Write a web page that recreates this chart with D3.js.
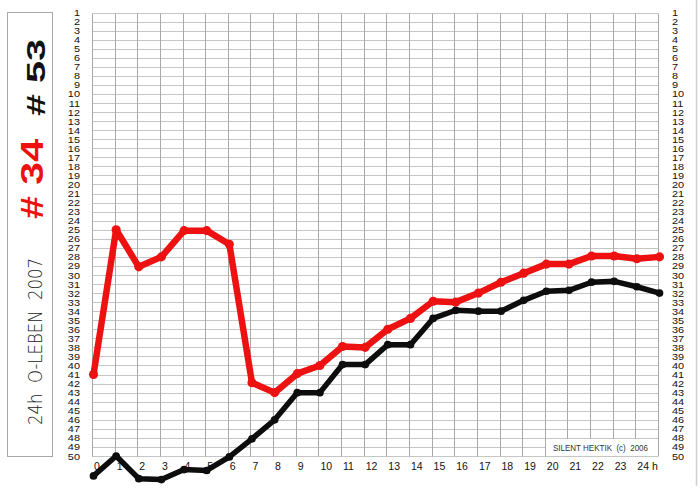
<!DOCTYPE html>
<html>
<head>
<meta charset="utf-8">
<script src="https://cdn.jsdelivr.net/npm/d3@7"></script>
<style>
  html, body { margin: 0; padding: 0; background: #ffffff; }
  svg { display: block; }
</style>
</head>
<body>
<svg id="chart" width="700" height="496"></svg>
<script>
// ---- data ----
const hours = d3.range(0, 26);                       // 0 .. 25
const hourLabels = d3.range(0, 24).map(String).concat(["24 h"]);
const rankTicks = d3.range(1, 51);                   // 1 .. 50
const redRanks = [41, 25, 29.1, 28, 25.1, 25.1, 26.6, 41.9, 43, 40.9, 40, 37.9, 38, 36, 34.8, 32.9, 33, 32, 30.8, 29.8, 28.8, 28.8, 27.9, 27.9, 28.2, 28];
const blackRanks = [52.2, 50, 52.5, 52.6, 51.5, 51.6, 50.1, 48.1, 46, 43, 43, 39.9, 39.9, 37.7, 37.7, 34.8, 33.9, 34, 34, 32.8, 31.8, 31.7, 30.8, 30.7, 31.3, 32];
const redLabel = "# 34";
const blackLabel = "# 53";
const sideTitle = "24h  O-LEBEN  2007";
const credit = "SILENT HEKTIK  (c)  2006";

// ---- layout ----
const svg = d3.select("#chart");
const x = d3.scaleLinear().domain([0, 25]).range([92, 658]);
const y = d3.scaleLinear().domain([1, 50]).range([12.5, 456]);

const grid = svg.append("g");
grid.selectAll("line.h").data(rankTicks).join("line")
  .attr("class", "h")
  .attr("x1", x(0)).attr("x2", x(25))
  .attr("y1", d => Math.round(y(d)) + 0.5).attr("y2", d => Math.round(y(d)) + 0.5)
  .attr("stroke", "#c6c6c6").attr("stroke-width", 1);
grid.selectAll("line.v").data(hours).join("line")
  .attr("class", "v")
  .attr("x1", d => Math.round(x(d)) + 0.5).attr("x2", d => Math.round(x(d)) + 0.5)
  .attr("y1", Math.round(y(1)) + 0.5).attr("y2", Math.round(y(50)) + 0.5)
  .attr("stroke", "#a8a8a8").attr("stroke-width", 1);

// credit box
const bx0 = Math.round(x(20)) + 1, bx1 = Math.round(x(25));
const by0 = Math.round(y(48)) + 1, by1 = Math.round(y(50));
svg.append("rect")
  .attr("x", bx0).attr("y", by0).attr("width", bx1 - bx0).attr("height", by1 - by0)
  .attr("fill", "#ffffff");
svg.append("text")
  .attr("x", 553).attr("y", (by0 + by1) / 2 + 3.5)
  .attr("textLength", 95).attr("lengthAdjust", "spacingAndGlyphs")
  .attr("font-family", "Liberation Sans, Arial, sans-serif")
  .attr("font-size", 9.5).attr("fill", "#333")
  .attr("xml:space", "preserve")
  .text(credit);

// axes (labels only)
const yLeft = d3.axisLeft(y).tickValues(rankTicks).tickSize(0).tickPadding(0);
const yRight = d3.axisRight(y).tickValues(rankTicks).tickSize(0).tickPadding(0);
const gl = svg.append("g").attr("transform", "translate(80,0)").call(yLeft);
const gr = svg.append("g").attr("transform", "translate(672,0)").call(yRight);
[gl, gr].forEach(g => {
  g.select(".domain").remove();
  g.selectAll(".tick text")
    .attr("font-family", "Liberation Sans, Arial, sans-serif")
    .attr("font-size", 8.4).attr("fill", "#111")
    .attr("dy", "0.36em")
    .attr("transform", "scale(1.3,1)");
});
const xAxis = d3.axisBottom(x).tickValues(d3.range(0, 25)).tickFormat((d, i) => hourLabels[i]).tickSize(0).tickPadding(0);
const gx = svg.append("g").attr("transform", "translate(0,470)").call(xAxis);
gx.select(".domain").remove();
gx.selectAll("text")
  .attr("text-anchor", "start").attr("dx", 1.5).attr("dy", 0)
  .attr("font-family", "Liberation Sans, Arial, sans-serif")
  .attr("font-size", 10.5).attr("fill", "#111")
  .attr("xml:space", "preserve");

// series
const line = d3.line().x((d, i) => x(hours[i]) + 1.5).y(d => y(d));
function drawSeries(vals, color, w) {
  svg.append("path").datum(vals)
    .attr("d", line)
    .attr("fill", "none").attr("stroke", color).attr("stroke-width", w)
    .attr("stroke-linejoin", "round").attr("stroke-linecap", "round");
  svg.append("g").selectAll("circle").data(vals).join("circle")
    .attr("cx", (d, i) => x(hours[i]) + 1.5).attr("cy", d => y(d))
    .attr("r", w * 0.7).attr("fill", color);
}
drawSeries(blackRanks, "#0d0d0d", 5.5);
drawSeries(redRanks, "#ee1111", 6.5);

// left title box
svg.append("rect").attr("x", 7.5).attr("y", 12.5).attr("width", 45).attr("height", 444)
  .attr("fill", "none").attr("stroke", "#a8a8a8").attr("stroke-width", 1);
function vtext(str, cx, startY, endY, size, color, weight, family) {
  svg.append("text")
    .attr("transform", `translate(${cx},${startY}) rotate(-90)`)
    .attr("x", 0).attr("y", 0)
    .attr("font-family", family).attr("font-size", size)
    .attr("font-weight", weight).attr("fill", color)
    .attr("textLength", startY - endY).attr("lengthAdjust", "spacingAndGlyphs")
    .attr("xml:space", "preserve")
    .text(str);
}
vtext(blackLabel, 45, 116, 39, 26, "#111", 700, "Liberation Sans, Arial, sans-serif");
vtext(redLabel, 43, 219, 139, 32, "#ee1111", 700, "Liberation Sans, Arial, sans-serif");
vtext(sideTitle, 42, 425, 258, 19, "#222", 200, "DejaVu Sans, sans-serif");

// scan edge
svg.append("line").attr("x1", 696.5).attr("x2", 696.5).attr("y1", 0).attr("y2", 486)
  .attr("stroke", "#cfcfcf").attr("stroke-width", 1.5);
</script>
</body>
</html>
